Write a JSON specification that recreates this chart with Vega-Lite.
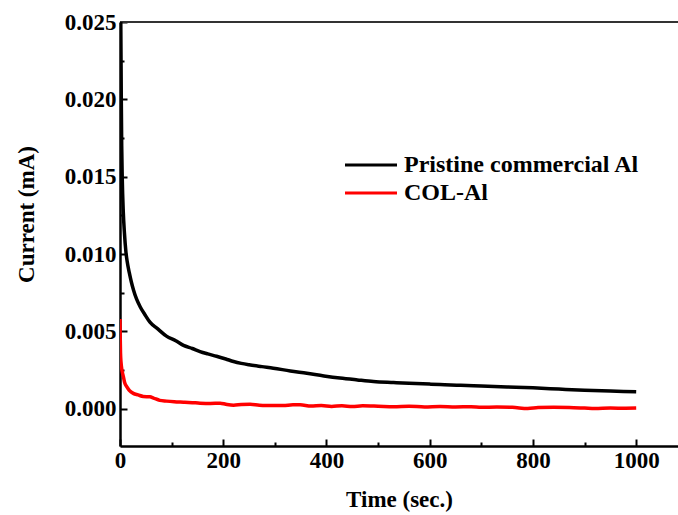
{
  "$schema": "https://vega.github.io/schema/vega-lite/v6.json",
  "autosize": "none",
  "padding": {"left": 120, "top": 22, "right": 0, "bottom": 69},
  "width": 558,
  "height": 424,
  "background": "white",
  "view": {"stroke": null},
  "config": {
    "font": "Liberation Serif",
    "axis": {
      "labelFont": "Liberation Serif",
      "labelFontWeight": "bold",
      "labelFontSize": 23,
      "labelColor": "black",
      "titleFont": "Liberation Serif",
      "titleFontWeight": "bold",
      "titleFontSize": 23,
      "titleColor": "black",
      "domainColor": "black",
      "domainWidth": 2.5,
      "tickColor": "black",
      "tickWidth": 2,
      "grid": false
    },
    "legend": {
      "labelFont": "Liberation Serif",
      "labelFontWeight": "bold",
      "labelFontSize": 24,
      "labelColor": "black",
      "labelLimit": 0
    }
  },
  "datasets": {
    "curves": [
      {"t": 0, "current": 0.027, "sample": "Pristine commercial Al"},
      {"t": 1.5, "current": 0.025, "sample": "Pristine commercial Al"},
      {"t": 2.5, "current": 0.02, "sample": "Pristine commercial Al"},
      {"t": 3.3, "current": 0.017, "sample": "Pristine commercial Al"},
      {"t": 4.3, "current": 0.015, "sample": "Pristine commercial Al"},
      {"t": 6.4, "current": 0.0127, "sample": "Pristine commercial Al"},
      {"t": 8.5, "current": 0.0114, "sample": "Pristine commercial Al"},
      {"t": 11.6, "current": 0.0101, "sample": "Pristine commercial Al"},
      {"t": 14, "current": 0.0095, "sample": "Pristine commercial Al"},
      {"t": 18, "current": 0.0088, "sample": "Pristine commercial Al"},
      {"t": 22, "current": 0.0082, "sample": "Pristine commercial Al"},
      {"t": 26, "current": 0.0077, "sample": "Pristine commercial Al"},
      {"t": 32, "current": 0.0071, "sample": "Pristine commercial Al"},
      {"t": 39, "current": 0.0066, "sample": "Pristine commercial Al"},
      {"t": 48, "current": 0.0061, "sample": "Pristine commercial Al"},
      {"t": 58, "current": 0.0056, "sample": "Pristine commercial Al"},
      {"t": 72, "current": 0.0052, "sample": "Pristine commercial Al"},
      {"t": 90, "current": 0.0047, "sample": "Pristine commercial Al"},
      {"t": 108, "current": 0.0044, "sample": "Pristine commercial Al"},
      {"t": 123, "current": 0.0041, "sample": "Pristine commercial Al"},
      {"t": 140, "current": 0.0039, "sample": "Pristine commercial Al"},
      {"t": 155, "current": 0.0037, "sample": "Pristine commercial Al"},
      {"t": 170, "current": 0.00355, "sample": "Pristine commercial Al"},
      {"t": 187, "current": 0.0034, "sample": "Pristine commercial Al"},
      {"t": 205, "current": 0.00322, "sample": "Pristine commercial Al"},
      {"t": 220, "current": 0.00306, "sample": "Pristine commercial Al"},
      {"t": 235, "current": 0.00294, "sample": "Pristine commercial Al"},
      {"t": 250, "current": 0.00285, "sample": "Pristine commercial Al"},
      {"t": 275, "current": 0.00273, "sample": "Pristine commercial Al"},
      {"t": 297, "current": 0.00263, "sample": "Pristine commercial Al"},
      {"t": 330, "current": 0.00245, "sample": "Pristine commercial Al"},
      {"t": 362, "current": 0.0023, "sample": "Pristine commercial Al"},
      {"t": 395, "current": 0.00213, "sample": "Pristine commercial Al"},
      {"t": 426, "current": 0.00199, "sample": "Pristine commercial Al"},
      {"t": 460, "current": 0.00187, "sample": "Pristine commercial Al"},
      {"t": 491, "current": 0.00177, "sample": "Pristine commercial Al"},
      {"t": 530, "current": 0.0017, "sample": "Pristine commercial Al"},
      {"t": 560, "current": 0.00165, "sample": "Pristine commercial Al"},
      {"t": 600, "current": 0.0016, "sample": "Pristine commercial Al"},
      {"t": 620, "current": 0.00158, "sample": "Pristine commercial Al"},
      {"t": 660, "current": 0.00152, "sample": "Pristine commercial Al"},
      {"t": 700, "current": 0.00148, "sample": "Pristine commercial Al"},
      {"t": 750, "current": 0.00142, "sample": "Pristine commercial Al"},
      {"t": 800, "current": 0.00136, "sample": "Pristine commercial Al"},
      {"t": 850, "current": 0.00128, "sample": "Pristine commercial Al"},
      {"t": 900, "current": 0.0012, "sample": "Pristine commercial Al"},
      {"t": 950, "current": 0.00115, "sample": "Pristine commercial Al"},
      {"t": 1000, "current": 0.0011, "sample": "Pristine commercial Al"},
      {"t": 0, "current": 0.0058, "sample": "COL-Al"},
      {"t": 0.5, "current": 0.0045, "sample": "COL-Al"},
      {"t": 1, "current": 0.0036, "sample": "COL-Al"},
      {"t": 2, "current": 0.003, "sample": "COL-Al"},
      {"t": 3.3, "current": 0.0026, "sample": "COL-Al"},
      {"t": 5, "current": 0.0023, "sample": "COL-Al"},
      {"t": 6.4, "current": 0.0021, "sample": "COL-Al"},
      {"t": 9, "current": 0.0017, "sample": "COL-Al"},
      {"t": 13, "current": 0.00144, "sample": "COL-Al"},
      {"t": 18, "current": 0.0012, "sample": "COL-Al"},
      {"t": 25.8, "current": 0.001, "sample": "COL-Al"},
      {"t": 35, "current": 0.0009, "sample": "COL-Al"},
      {"t": 45, "current": 0.0008, "sample": "COL-Al"},
      {"t": 58, "current": 0.00078, "sample": "COL-Al"},
      {"t": 65, "current": 0.0007, "sample": "COL-Al"},
      {"t": 77, "current": 0.00055, "sample": "COL-Al"},
      {"t": 90, "current": 0.0005, "sample": "COL-Al"},
      {"t": 105, "current": 0.00046, "sample": "COL-Al"},
      {"t": 123, "current": 0.00043, "sample": "COL-Al"},
      {"t": 140, "current": 0.0004, "sample": "COL-Al"},
      {"t": 155, "current": 0.00037, "sample": "COL-Al"},
      {"t": 175, "current": 0.00035, "sample": "COL-Al"},
      {"t": 194, "current": 0.00037, "sample": "COL-Al"},
      {"t": 205, "current": 0.0003, "sample": "COL-Al"},
      {"t": 220, "current": 0.00024, "sample": "COL-Al"},
      {"t": 235, "current": 0.00028, "sample": "COL-Al"},
      {"t": 252, "current": 0.0003, "sample": "COL-Al"},
      {"t": 270, "current": 0.00024, "sample": "COL-Al"},
      {"t": 290, "current": 0.00022, "sample": "COL-Al"},
      {"t": 316, "current": 0.00021, "sample": "COL-Al"},
      {"t": 335, "current": 0.00026, "sample": "COL-Al"},
      {"t": 349, "current": 0.00026, "sample": "COL-Al"},
      {"t": 370, "current": 0.00018, "sample": "COL-Al"},
      {"t": 390, "current": 0.00022, "sample": "COL-Al"},
      {"t": 410, "current": 0.00016, "sample": "COL-Al"},
      {"t": 430, "current": 0.0002, "sample": "COL-Al"},
      {"t": 450, "current": 0.00015, "sample": "COL-Al"},
      {"t": 470, "current": 0.0002, "sample": "COL-Al"},
      {"t": 500, "current": 0.00017, "sample": "COL-Al"},
      {"t": 530, "current": 0.00013, "sample": "COL-Al"},
      {"t": 560, "current": 0.00017, "sample": "COL-Al"},
      {"t": 590, "current": 0.00012, "sample": "COL-Al"},
      {"t": 620, "current": 0.00015, "sample": "COL-Al"},
      {"t": 650, "current": 0.00012, "sample": "COL-Al"},
      {"t": 680, "current": 0.00014, "sample": "COL-Al"},
      {"t": 700, "current": 0.0001, "sample": "COL-Al"},
      {"t": 730, "current": 0.00012, "sample": "COL-Al"},
      {"t": 760, "current": 0.0001, "sample": "COL-Al"},
      {"t": 790, "current": 0.00002, "sample": "COL-Al"},
      {"t": 810, "current": 0.00008, "sample": "COL-Al"},
      {"t": 840, "current": 0.0001, "sample": "COL-Al"},
      {"t": 870, "current": 0.00009, "sample": "COL-Al"},
      {"t": 900, "current": 0.00005, "sample": "COL-Al"},
      {"t": 920, "current": 0.00002, "sample": "COL-Al"},
      {"t": 950, "current": 0.00005, "sample": "COL-Al"},
      {"t": 980, "current": 0.00004, "sample": "COL-Al"},
      {"t": 1000, "current": 0.00005, "sample": "COL-Al"}
    ],
    "frame": [{"top": 0.025}]
  },
  "layer": [
    {
      "data": {"name": "frame"},
      "mark": {"type": "rule", "color": "#333333", "strokeWidth": 2},
      "encoding": {
        "y": {"field": "top", "type": "quantitative"}
      }
    },
    {
      "data": {"name": "curves"},
      "mark": {"type": "line", "strokeWidth": 3.5, "clip": true, "interpolate": "monotone"},
      "encoding": {
        "x": {
          "field": "t",
          "type": "quantitative",
          "scale": {"domain": [0, 1081], "nice": false, "zero": false},
          "axis": {
            "title": "Time (sec.)",
            "values": [0, 100, 200, 300, 400, 500, 600, 700, 800, 900, 1000],
            "labelExpr": "datum.value % 200 == 0 ? format(datum.value, 'd') : ''",
            "tickSize": {"condition": {"test": "datum.value % 200 == 0", "value": -7}, "value": -4},
            "labelPadding": 10,
            "labelFlush": false,
            "titleY": 60,
            "titleBaseline": "alphabetic"
          }
        },
        "y": {
          "field": "current",
          "type": "quantitative",
          "scale": {"domain": [-0.0024, 0.025], "nice": false, "zero": false},
          "axis": {
            "title": "Current (mA)",
            "values": [0, 0.0025, 0.005, 0.0075, 0.01, 0.0125, 0.015, 0.0175, 0.02, 0.0225, 0.025],
            "labelExpr": "abs(datum.value*200 - round(datum.value*200)) < 0.01 ? format(datum.value, '.3f') : ''",
            "tickSize": {"condition": {"test": "abs(datum.value*200 - round(datum.value*200)) < 0.01", "value": -7}, "value": -4},
            "labelPadding": 11,
            "labelFlush": false,
            "titleAngle": 270,
            "titleX": -94,
            "titleY": 192,
            "titleAlign": "center",
            "titleBaseline": "middle"
          }
        },
        "color": {
          "field": "sample",
          "type": "nominal",
          "sort": ["Pristine commercial Al", "COL-Al"],
          "scale": {"domain": ["Pristine commercial Al", "COL-Al"], "range": ["black", "red"]},
          "legend": {
            "title": null,
            "orient": "none",
            "legendX": 239,
            "legendY": 131,
            "symbolType": "M-4,0H4",
            "symbolSize": 169,
            "symbolStrokeWidth": 3,
            "symbolFillColor": "transparent",
            "labelOffset": 21,
            "rowPadding": 4,
            "padding": 0
          }
        }
      }
    }
  ]
}
